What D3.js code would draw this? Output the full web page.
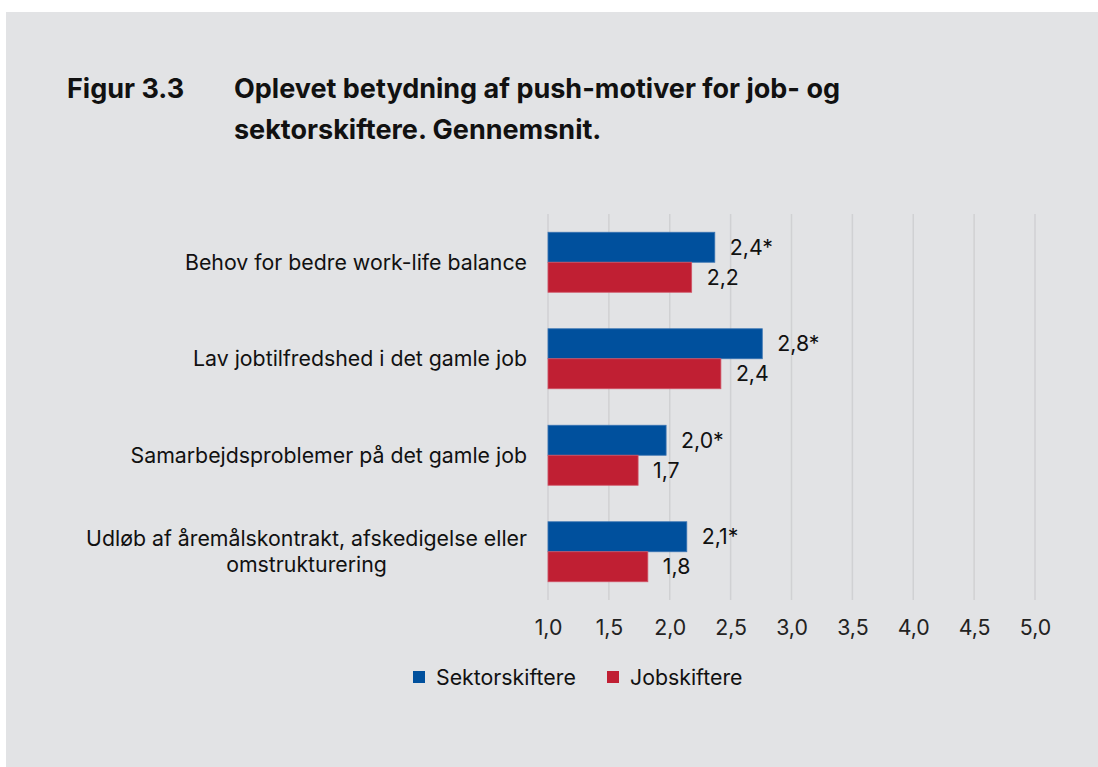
<!DOCTYPE html>
<html><head><meta charset="utf-8">
<script src="https://cdn.jsdelivr.net/npm/d3@7"></script>
<style>
html,body{margin:0;padding:0;background:#fff;}
svg{display:block;font-family:Inter,"Noto Sans",sans-serif;}
</style></head>
<body><svg id="c" width="1098" height="767"></svg>
<script>
const categories = [
  ["Behov for bedre work-life balance"],
  ["Lav jobtilfredshed i det gamle job"],
  ["Samarbejdsproblemer på det gamle job"],
  ["Udløb af åremålskontrakt, afskedigelse eller", "omstrukturering"]
];
const seriesNames = ["Sektorskiftere", "Jobskiftere"];
const sektorValues = [2.37, 2.76, 1.97, 2.14];
const jobValues = [2.18, 2.42, 1.74, 1.82];
const sektorLabels = ["2,4*", "2,8*", "2,0*", "2,1*"];
const jobLabels = ["2,2", "2,4", "1,7", "1,8"];
const tickValues = [1.0, 1.5, 2.0, 2.5, 3.0, 3.5, 4.0, 4.5, 5.0];
const colors = ["#00509d", "#c01f33"];

const FS = 21.3;
const svg = d3.select("#c");
svg.append("rect").attr("x",6).attr("y",12).attr("width",1092).attr("height",755).attr("fill","#e2e3e5");

// Title
const tg = svg.append("g").attr("font-weight",700).attr("font-size",27).attr("fill","#111");
tg.append("text").attr("x",67).attr("y",98).text("Figur 3.3");
tg.append("text").attr("x",234).attr("y",98).text("Oplevet betydning af push-motiver for job- og");
tg.append("text").attr("x",234).attr("y",139).text("sektorskiftere. Gennemsnit.");

const x = d3.scaleLinear().domain([1,5]).range([548,1035]);
const y = d3.scaleBand().domain(d3.range(categories.length)).range([214,600]);
const inner = d3.scaleBand().domain([0,1]).range([0,60]);

// gridlines
svg.append("g").selectAll("line").data(tickValues).join("line")
  .attr("x1",d=>x(d)).attr("x2",d=>x(d)).attr("y1",214).attr("y2",600)
  .attr("stroke","#d0d1d3").attr("stroke-width",1.5);

// axis
const fmt = d => d.toFixed(1).replace(".", ",");
const ax = svg.append("g").attr("transform","translate(0,614)")
  .call(d3.axisBottom(x).tickValues(tickValues).tickFormat(fmt).tickSize(0).tickPadding(6));
ax.select(".domain").remove();
ax.selectAll("text").attr("font-size",FS).attr("fill","#222").attr("font-family","Inter,'Noto Sans',sans-serif");

const data = categories.map((c,i)=>({i, vals:[sektorValues[i], jobValues[i]], labs:[sektorLabels[i], jobLabels[i]]}));
const groups = svg.append("g").selectAll("g").data(data).join("g")
  .attr("transform", d => `translate(0,${y(d.i) + (y.bandwidth()-60)/2})`);
groups.selectAll("rect").data(d=>d.vals.map((v,k)=>({v,k}))).join("rect")
  .attr("x", x(1)).attr("y", d=>inner(d.k)).attr("width", d=>x(d.v)-x(1)).attr("height", inner.bandwidth())
  .attr("fill", d=>colors[d.k]).attr("stroke", d=>d.k===0?"#3a74b3":"#d05466").attr("stroke-width",0.8);
groups.selectAll("text").data(d=>d.vals.map((v,k)=>({v,k,l:d.labs[k]}))).join("text")
  .attr("x", d=>x(d.v)+15).attr("y", d=>inner(d.k)+inner.bandwidth()/2).attr("dy","0.36em")
  .attr("font-size",FS).attr("fill","#111").text(d=>d.l);

// category labels
const cl = svg.append("g").attr("font-size",FS).attr("fill","#111");
categories.forEach((lines,i)=>{
  const cy = y(i)+y.bandwidth()/2;
  const lh = 26;
  const t = cl.append("text").attr("text-anchor","middle");
  lines.forEach((ln,j)=>{
    t.append("tspan").attr("x",0).attr("y", cy + (j-(lines.length-1)/2)*lh).attr("dy","0.36em").text(ln);
  });
  let maxW = 0;
  t.selectAll("tspan").each(function(){ maxW = Math.max(maxW, this.getComputedTextLength()); });
  t.selectAll("tspan").attr("x", 527 - maxW/2);
});

// legend
const lg = svg.append("g").attr("font-size",FS).attr("fill","#111");
const legX = [413, 607];
seriesNames.forEach((n,k)=>{
  lg.append("rect").attr("x",legX[k]).attr("y",671).attr("width",12).attr("height",12).attr("fill",colors[k]);
  lg.append("text").attr("x",legX[k]+23).attr("y",677).attr("dy","0.36em").text(n);
});
</script></body></html>
